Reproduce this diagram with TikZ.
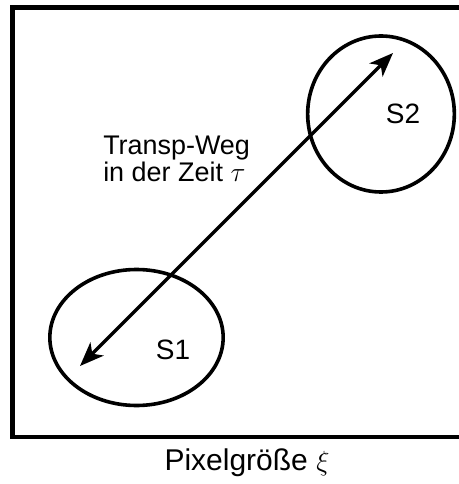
\documentclass[tikz,border=0pt]{standalone}
\usepackage{fontspec}
\setmainfont{Liberation Sans}
\usepackage{amsmath}
\usetikzlibrary{arrows.meta,shapes.geometric}

\tikzset{
  spot/.style={ellipse,draw,line width=2.7pt,inner sep=0pt},
  weg/.style={<->,line width=2.5pt}
}

\begin{document}
\begin{tikzpicture}[x=0.75pt,y=-0.75pt,>={Stealth[length=18pt,width=14pt,inset=5pt]},
    font=\fontsize{21}{22}\selectfont]
  \useasboundingbox (0,0) rectangle (459,484);
  \draw[line width=3.6pt] (12.5,7.5) rectangle (472,437);

  \node[spot,minimum width=130pt,minimum height=102pt] (s1) at (136.5,337.5) {};
  \node[spot,minimum width=110pt,minimum height=117pt] (s2) at (381,114) {};
  \node (s1lab) at (173,350) {S1};
  \node (s2lab) at (403,114) {S2};

  \coordinate (von) at (80,366);
  \coordinate (bis) at (393,53);
  \draw[weg] (von) -- (bis);

  \node[anchor=west,align=left,inner sep=0pt,font=\fontsize{20.2}{18.5}\selectfont]
    (weglab) at (103,159) {Transp-Weg\\in der Zeit $\tau$};

  \node[font=\fontsize{22.5}{24}\selectfont] (pixel) at (247,463)
    {Pixelgr\"o\ss e $\xi$};
\end{tikzpicture}
\end{document}
